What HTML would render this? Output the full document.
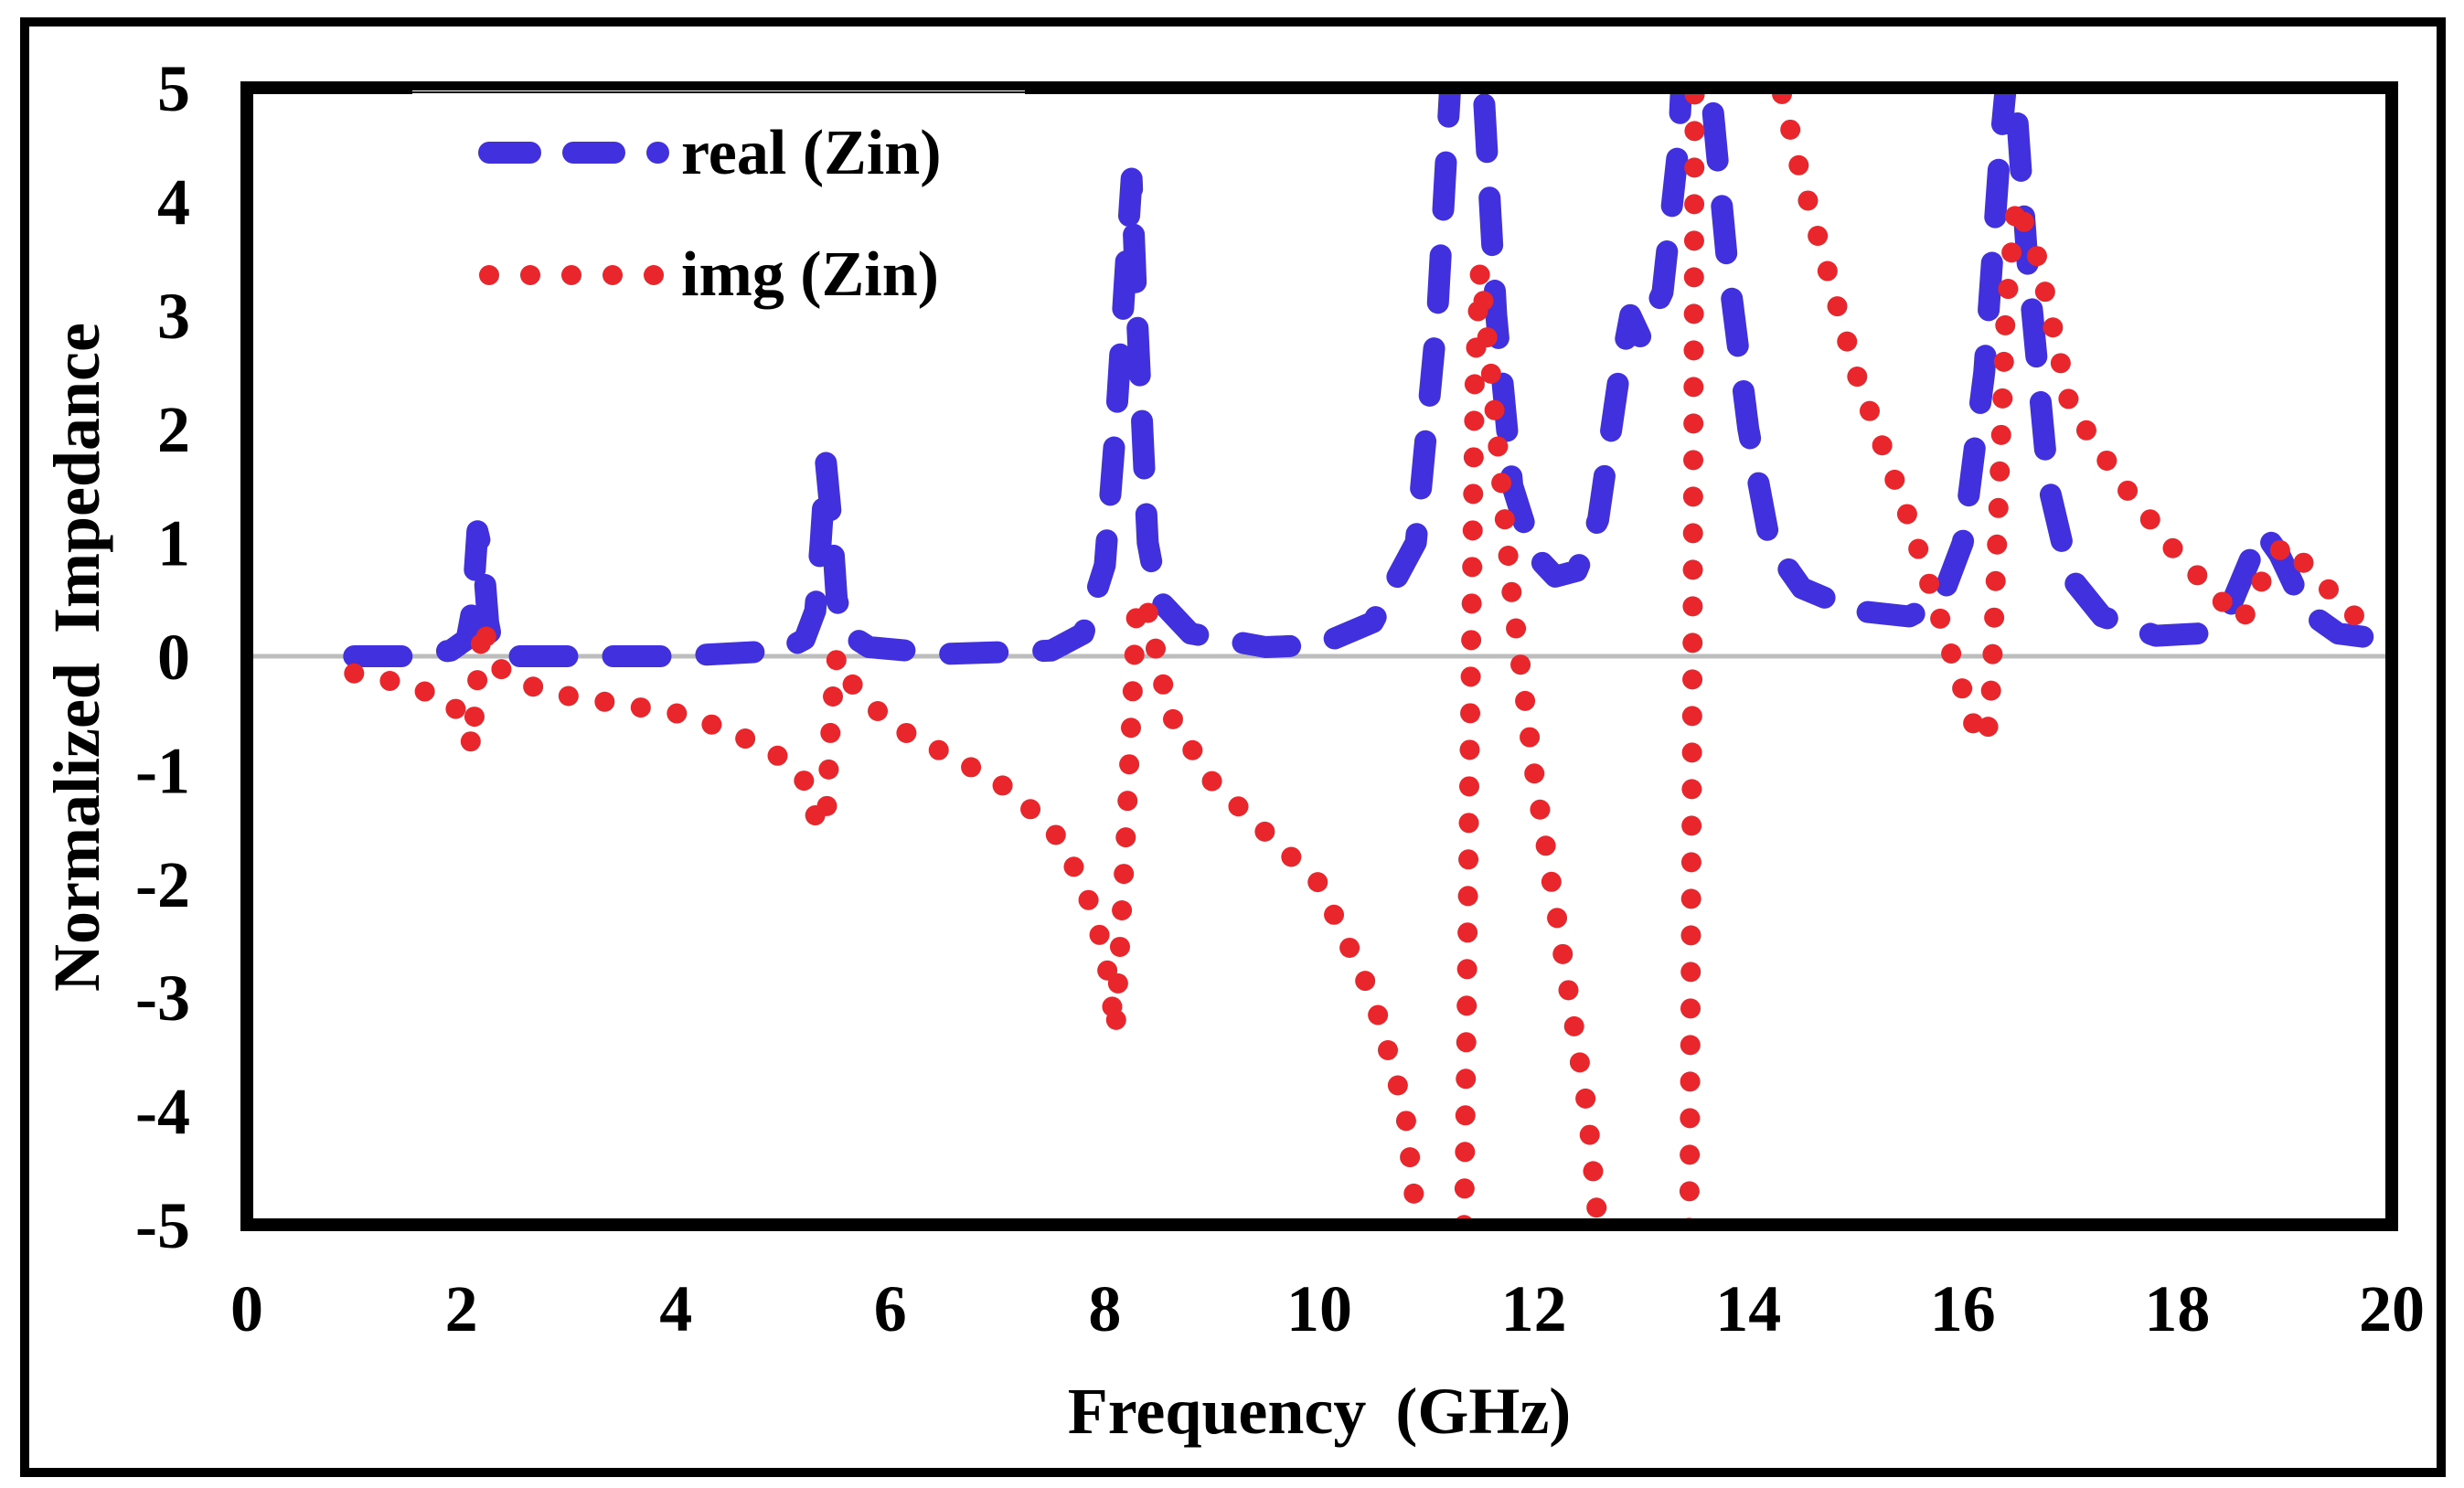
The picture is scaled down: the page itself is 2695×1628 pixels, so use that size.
<!DOCTYPE html>
<html><head><meta charset="utf-8"><style>
html,body{margin:0;padding:0;background:#fff;width:2695px;height:1628px;overflow:hidden;position:relative;}
svg{display:block;position:absolute;left:0;top:0;font-family:"Liberation Serif",serif;font-weight:bold;}
</style></head><body>
<svg id="chart" width="2695" height="1628" viewBox="0 0 2695 1628" xmlns="http://www.w3.org/2000/svg" overflow="hidden">
<rect x="27" y="24" width="2643" height="1587" fill="#fff" stroke="#000" stroke-width="10"/>
<defs><clipPath id="plotclip"><rect x="270" y="96" width="2346" height="1244"/></clipPath></defs>
<g id="grid"></g>
<g id="series" clip-path="url(#plotclip)"></g>
<rect x="270" y="96" width="2346" height="1244" fill="none" stroke="#000" stroke-width="14"/>
<g id="ticks"></g>
<rect x="451" y="99" width="670" height="250" fill="#fff"/>
<line x1="451" y1="101" x2="1121" y2="101" stroke="#000" stroke-width="2"/>
<line x1="535" y1="167" x2="720" y2="167" stroke="#4030dd" stroke-width="24" stroke-linecap="round" stroke-dasharray="45 47"/>
<text x="745" y="190" font-size="70">real (Zin)</text>
<line x1="535" y1="301" x2="720" y2="301" stroke="#e8262b" stroke-width="22" stroke-linecap="round" stroke-dasharray="0 45"/>
<text x="745" y="323" font-size="70">img (Zin)</text>
<text x="1443" y="1568" font-size="72" text-anchor="middle" word-spacing="14">Frequency (GHz)</text>
<text transform="translate(108,719) rotate(-90)" font-size="72" text-anchor="middle" word-spacing="14">Normalized Impedance</text>
</svg>
<script>
const xTicks=[0,2,4,6,8,10,12,14,16,18,20];
const yTicks=[5,4,3,2,1,0,-1,-2,-3,-4,-5];
const realF=[1.0,1.5,1.9,2.05,2.1,2.15,2.2,2.25,2.3,2.5,3,4,5,5.2,5.3,5.35,5.4,5.45,5.5,5.6,5.8,6.5,7.5,7.8,8.0,8.1,8.2,8.25,8.3,8.4,8.5,8.8,9.5,10,10.5,10.9,11.1,11.25,11.5,11.65,11.8,12,12.2,12.4,12.6,12.8,12.9,13.0,13.2,13.35,13.4,13.6,13.8,14,14.2,14.5,15,15.5,15.8,16,16.2,16.35,16.45,16.6,16.8,17,17.3,17.8,18.2,18.5,18.7,18.8,18.95,19.2,19.5,19.9];
const realV=[0,0,0.05,0.15,0.4,1.1,0.9,0.3,0.05,0,0,0,0.05,0.15,0.4,1.0,1.7,1.2,0.5,0.2,0.08,0.02,0.05,0.2,0.8,2.0,3.5,4.2,3.0,1.0,0.5,0.2,0.08,0.1,0.3,1.0,3.0,5.5,5.5,3,1.5,0.9,0.7,0.75,1.2,2.5,3.0,2.8,3.2,4.5,5.5,5.5,3.5,2.0,1.0,0.6,0.4,0.35,0.5,1.0,2.5,4.5,5.5,3.5,1.5,0.7,0.35,0.18,0.2,0.45,0.9,1.1,0.9,0.4,0.2,0.15];
const imgF=[1.0,1.5,1.9,2.05,2.1,2.15,2.2,2.25,2.35,2.6,3,4,4.5,5.0,5.2,5.3,5.4,5.45,5.5,5.6,6,7,7.5,7.8,8.0,8.1,8.2,8.3,8.4,8.6,9,10,10.5,10.8,10.9,11.0,11.3,11.35,11.4,11.45,11.5,11.6,11.8,12,12.3,12.5,12.65,13.0,13.45,13.48,13.5,13.6,14.3,14.5,15,15.5,15.8,16.0,16.15,16.25,16.3,16.4,16.5,16.7,17,17.5,18,18.4,18.6,18.75,19,19.3,19.6,19.9];
const imgV=[-0.15,-0.25,-0.4,-0.6,-0.8,-0.2,0.3,0.1,-0.1,-0.25,-0.35,-0.5,-0.65,-0.9,-1.1,-1.4,-1.5,-0.5,0.0,-0.2,-0.6,-1.1,-1.5,-2.0,-2.6,-3.3,-1.5,0.5,0.4,-0.5,-1.1,-2.0,-3.0,-4.0,-4.9,-5.5,-10,-5,-1,2.5,3.4,2.5,0.5,-1.0,-2.8,-4.0,-5.5,-12,-5,0,5,12,5.0,4.2,2.5,1.2,0.3,-0.3,-0.75,-0.6,0.5,3.0,4.0,3.5,2.2,1.5,0.9,0.5,0.3,0.6,1.0,0.7,0.4,0.15];
const X0=270,X1=2616,Y0=1340,Y1=96;
const xs=v=>X0+(v-0)/(20-0)*(X1-X0);
const ys=v=>Y0-(v+5)/10*(Y0-Y1);
const NS='http://www.w3.org/2000/svg';
const grid=document.getElementById('grid'),ticks=document.getElementById('ticks'),series=document.getElementById('series');
const zl=document.createElementNS(NS,'line');


zl.setAttribute('x1',X0);zl.setAttribute('x2',X1);zl.setAttribute('y1',ys(0));zl.setAttribute('y2',ys(0));
zl.setAttribute('stroke','#bdbdbd');zl.setAttribute('stroke-width','5');
grid.appendChild(zl);
xTicks.forEach(t=>{const e=document.createElementNS(NS,'text');


e.setAttribute('x',xs(t));e.setAttribute('y',1456);e.setAttribute('font-size','72');e.setAttribute('text-anchor','middle');e.textContent=t;ticks.appendChild(e);});
yTicks.forEach(t=>{const e=document.createElementNS(NS,'text');


e.setAttribute('x',208);e.setAttribute('y',ys(t)+25);e.setAttribute('font-size','72');e.setAttribute('text-anchor','end');e.textContent=t;ticks.appendChild(e);});
function pts(F,V){return F.map((f,i)=>xs(f).toFixed(1)+','+ys(V[i]).toFixed(1)).join(' ');}
const pi=document.createElementNS(NS,'polyline');


pi.setAttribute('points',pts(imgF,imgV));pi.setAttribute('fill','none');pi.setAttribute('stroke','#e8262b');pi.setAttribute('stroke-width','22');pi.setAttribute('stroke-linecap','round');pi.setAttribute('stroke-dasharray','0 40');
const pr=document.createElementNS(NS,'polyline');


pr.setAttribute('points',pts(realF,realV));pr.setAttribute('fill','none');pr.setAttribute('stroke','#4030dd');pr.setAttribute('stroke-width','24');pr.setAttribute('stroke-linecap','round');pr.setAttribute('stroke-linejoin','round');pr.setAttribute('stroke-dasharray','52 50');
series.appendChild(pr);series.appendChild(pi);
</script>
</body></html>
